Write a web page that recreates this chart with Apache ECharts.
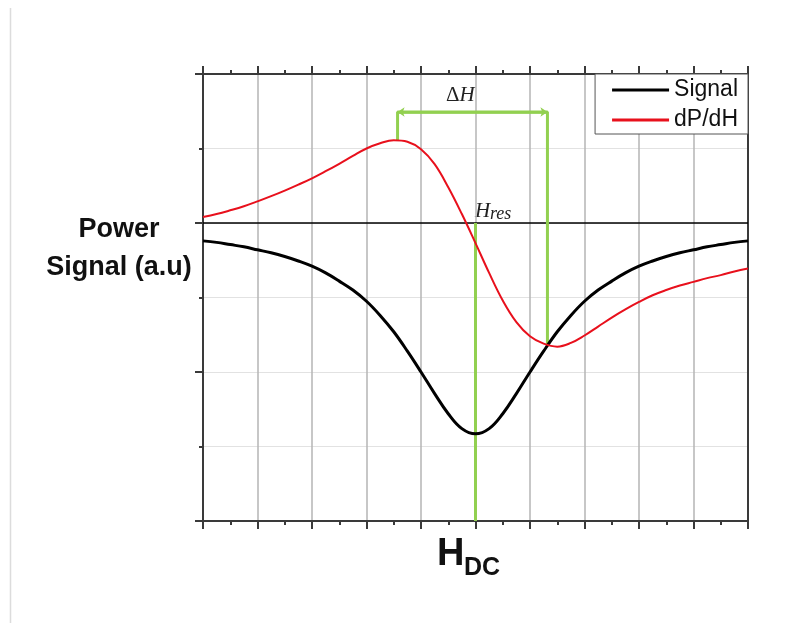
<!DOCTYPE html>
<html><head><meta charset="utf-8">
<script src="https://cdn.jsdelivr.net/npm/echarts@6/dist/echarts.min.js"></script>
<style>html,body{margin:0;padding:0;background:#fff}#c{width:798px;height:623px}</style>
</head><body><div id="c"></div>
<script>
// H_DC positions (arbitrary units)
const hdc = [0,0.25,0.5,0.75,1,1.25,1.5,1.75,2,2.25,2.5,2.75,3,3.25,3.5,3.75,4,4.25,4.5,4.75,5,
             5.25,5.5,5.75,6,6.25,6.5,6.75,7,7.25,7.5,7.75,8,8.25,8.5,8.75,9,9.25,9.5,9.75,10];
// Absorbed power signal (a.u.)
const signal = [-0.24,-0.26,-0.29,-0.32,-0.36,-0.40,-0.45,-0.51,-0.58,-0.67,-0.78,-0.90,-1.05,-1.24,-1.46,-1.72,-2.00,-2.29,-2.56,-2.76,-2.83,
                -2.76,-2.56,-2.29,-2.00,-1.72,-1.46,-1.24,-1.05,-0.90,-0.78,-0.67,-0.58,-0.51,-0.45,-0.40,-0.36,-0.32,-0.29,-0.26,-0.24];
// Derivative dP/dH (a.u.)
const dPdH = [0.08,0.12,0.17,0.225,0.29,0.36,0.435,0.515,0.60,0.695,0.795,0.90,1.00,1.07,1.11,1.09,0.99,0.79,0.48,0.12,-0.27,
              -0.67,-1.04,-1.33,-1.52,-1.62,-1.66,-1.61,-1.51,-1.39,-1.27,-1.16,-1.06,-0.97,-0.90,-0.84,-0.79,-0.74,-0.70,-0.65,-0.61];
// Annotation anchors (data units)
const resonanceField = 5;
const peakPoint = [3.57, 1.11];
const troughPoint = [6.32, -1.65];
const bracketLevel = 1.49;
const seriesNames = ['Signal', 'dP/dH'];

const GREEN = '#92d050';
const AXIS = '#3a3a3a';
const RED = '#e8101c';
const chart = echarts.init(document.getElementById('c'), null, {renderer: 'canvas'});

const axisCommon = {
  type: 'value', min: 0, max: 10, interval: 1,
  axisLabel: {show: false},
  axisLine: {show: true, onZero: false, lineStyle: {color: AXIS, width: 2}},
  axisTick: {show: true, inside: false, length: 8, lineStyle: {color: AXIS, width: 2}},
  minorTick: {show: true, splitNumber: 2, length: 4, lineStyle: {color: AXIS, width: 2}}
};

chart.setOption({
  animation: false,
  backgroundColor: '#ffffff',
  grid: {left: 203, right: 50, top: 74, bottom: 102, containLabel: false},
  xAxis: [
    Object.assign({}, axisCommon, {position: 'bottom',
      splitLine: {show: true, lineStyle: {color: '#b4b4b4', width: 1.5}}}),
    Object.assign({}, axisCommon, {position: 'top', splitLine: {show: false}})
  ],
  yAxis: [
    {type: 'value', min: -4, max: 2, interval: 2, position: 'left',
     axisLabel: {show: false},
     axisLine: {show: true, onZero: false, lineStyle: {color: AXIS, width: 2}},
     axisTick: {show: true, inside: false, length: 8, lineStyle: {color: AXIS, width: 2}},
     minorTick: {show: true, splitNumber: 2, length: 4, lineStyle: {color: AXIS, width: 2}},
     splitLine: {show: true, lineStyle: {color: '#e2e2e2', width: 1}},
     minorSplitLine: {show: true, lineStyle: {color: '#e2e2e2', width: 1}}},
    {type: 'value', min: -4, max: 2, interval: 2, position: 'right',
     axisLabel: {show: false},
     axisLine: {show: true, onZero: false, lineStyle: {color: AXIS, width: 2}},
     axisTick: {show: false}, splitLine: {show: false}}
  ],
  legend: {
    data: [
      {name: seriesNames[0], icon: 'rect', itemStyle: {color: '#000'}},
      {name: seriesNames[1], icon: 'rect', itemStyle: {color: RED}}
    ],
    orient: 'vertical', right: 50, top: 74,
    padding: [3, 10, 1, 17], itemGap: 4, itemWidth: 57, itemHeight: 3,
    backgroundColor: '#ffffff', borderColor: '#555', borderWidth: 1, borderRadius: 0,
    textStyle: {fontFamily: 'Liberation Sans, Arial, sans-serif', fontSize: 23, color: '#111', lineHeight: 26},
    selectedMode: false
  },
  series: [
    {name: 'zero', type: 'line', data: [[0, 0], [10, 0]], symbol: 'none', silent: true,
     lineStyle: {color: '#000', width: 1.5}, z: 1},
    {name: 'Hres', type: 'line', data: [[resonanceField, 0], [resonanceField, -4]], symbol: 'none', silent: true,
     lineStyle: {color: GREEN, width: 3}, z: 2},
    {name: 'bracket', type: 'line',
     data: [peakPoint, [peakPoint[0], bracketLevel], [troughPoint[0], bracketLevel], troughPoint],
     symbol: 'none', silent: true, lineStyle: {color: GREEN, width: 3}, z: 2,
     markLine: {silent: true, symbol: ['arrow', 'arrow'], symbolSize: [7, 7],
       lineStyle: {color: GREEN, width: 2.5, type: 'solid'}, label: {show: false},
       data: [[{coord: [peakPoint[0], bracketLevel]}, {coord: [troughPoint[0], bracketLevel]}]]}},
    {name: 'Signal', type: 'line', data: hdc.map((x, i) => [x, signal[i]]), smooth: 0.4, symbol: 'none',
     lineStyle: {color: '#000', width: 3}, itemStyle: {color: '#000'}, z: 4},
    {name: 'dP/dH', type: 'line', data: hdc.map((x, i) => [x, dPdH[i]]), smooth: 0.4, symbol: 'none',
     lineStyle: {color: RED, width: 2}, itemStyle: {color: RED}, z: 5}
  ],
  graphic: [
    {type: 'line', shape: {x1: 10.5, y1: 8, x2: 10.5, y2: 623}, style: {stroke: '#dcdcdc', lineWidth: 1.5}, silent: true},
    {type: 'text', x: 119, y: 249, silent: true,
     style: {text: 'Power\nSignal (a.u)', fill: '#111', align: 'center', verticalAlign: 'middle',
       font: 'bold 27px "Liberation Sans", Arial, sans-serif', lineHeight: 38}},
    {type: 'text', x: 437, y: 555, silent: true,
     style: {text: 'H', fill: '#111', align: 'left', verticalAlign: 'middle', font: 'bold 38px "Liberation Sans", Arial, sans-serif'}},
    {type: 'text', x: 464, y: 568, silent: true,
     style: {text: 'DC', fill: '#111', align: 'left', verticalAlign: 'middle', font: 'bold 25px "Liberation Sans", Arial, sans-serif'}},
    {type: 'text', x: 446, y: 95, silent: true,
     style: {text: '{d|Δ}{h|H}', align: 'left', verticalAlign: 'middle',
       rich: {d: {font: '21px "Liberation Serif", serif', fill: '#222'}, h: {font: 'italic 21px "Liberation Serif", serif', fill: '#222'}}}},
    {type: 'text', x: 475, y: 211, silent: true,
     style: {text: 'H', fill: '#222', align: 'left', verticalAlign: 'middle', font: 'italic 21px "Liberation Serif", serif'}},
    {type: 'text', x: 490, y: 214, silent: true,
     style: {text: 'res', fill: '#222', align: 'left', verticalAlign: 'middle', font: 'italic 18px "Liberation Serif", serif'}}
  ]
});
</script>
</body></html>
